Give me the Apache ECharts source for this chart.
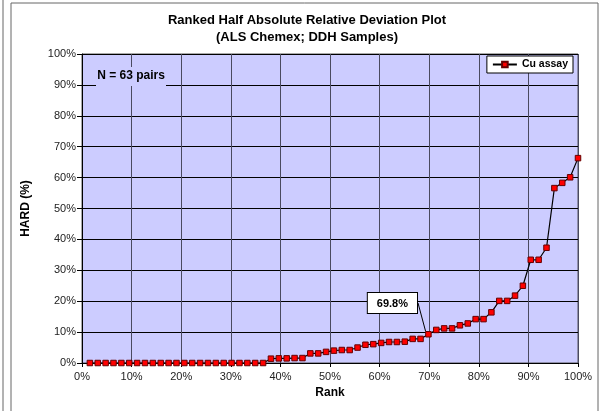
<!DOCTYPE html>
<html>
<head>
<meta charset="utf-8">
<script src="https://cdn.jsdelivr.net/npm/echarts@6/dist/echarts.min.js"></script>
<style>
html, body { margin: 0; padding: 0; background: #fff; }
#chart { width: 605px; height: 411px; }
</style>
</head>
<body>
<div id="chart"></div>
<script>
// HARD values (%), sorted ascending
var hardValues = [
	0, 0, 0, 0, 0, 0, 0, 0, 0, 0,
	0, 0, 0, 0, 0, 0, 0, 0, 0, 0,
	0, 0, 0, 1.4, 1.5, 1.5, 1.6, 1.6, 3.1, 3.1,
	3.6, 4.0, 4.2, 4.2, 5.0, 5.9, 6.1, 6.5, 6.8, 6.8,
	6.9, 7.8, 7.8, 9.3, 10.7, 11.2, 11.2, 12.2, 12.8, 14.2,
	14.2, 16.4, 20.1, 20.1, 21.8, 25.0, 33.4, 33.4, 37.3, 56.6,
	58.3, 60.1, 66.3
];
var calloutIndex = 43;
var calloutText = '69.8%';
var seriesName = 'Cu assay';
var titleLines = ['Ranked Half Absolute Relative Deviation Plot', '(ALS Chemex; DDH Samples)'];
var noteText = 'N = 63 pairs';

var font = 'Arial, "Liberation Sans", sans-serif';
var n = hardValues.length;

var seriesData = hardValues.map(function(v, i) {
	var item = { value: [(i + 1) / n * 100, v] };
	if (i === calloutIndex) {
		item.label = {
			show: true,
			formatter: calloutText,
			position: 'top',
			backgroundColor: '#fff',
			borderColor: '#000',
			borderWidth: 1,
			padding: [5, 9, 4, 9],
			color: '#000',
			fontFamily: font,
			fontWeight: 'bold',
			fontSize: 11
		};
		item.labelLine = { show: true, lineStyle: { color: '#000', width: 1 } };
	}
	return item;
});

var chart = echarts.init(document.getElementById('chart'));

var option = {
	animation: false,
	backgroundColor: '#fff',
	title: {
		text: titleLines.join('\n'),
		left: 302,
		top: 7,
		textAlign: 'center',
		textStyle: { fontFamily: font, fontSize: 13, fontWeight: 'bold', color: '#000', lineHeight: 17 }
	},
	legend: {
		data: [seriesName],
		right: 32,
		top: 56,
		backgroundColor: '#fff',
		borderColor: '#000',
		borderWidth: 1,
		padding: [3, 5, 3, 5],
		itemWidth: 24,
		itemHeight: 7,
		itemGap: 4,
		textStyle: { fontFamily: font, fontSize: 10.5, fontWeight: 'bold', color: '#000' }
	},
	grid: {
		left: 82,
		right: 27,
		top: 54,
		bottom: 48,
		show: true,
		backgroundColor: '#ccccff',
		borderColor: '#555',
		borderWidth: 1
	},
	xAxis: {
		type: 'value',
		min: 0,
		max: 100,
		interval: 10,
		name: 'Rank',
		nameLocation: 'middle',
		nameGap: 24,
		nameTextStyle: { fontFamily: font, fontSize: 12, fontWeight: 'bold', color: '#000' },
		axisLine: { lineStyle: { color: '#000' } },
		axisTick: { show: true, length: 4, inside: false, lineStyle: { color: '#000' } },
		axisLabel: { formatter: '{value}%', fontFamily: font, fontSize: 11, color: '#222', margin: 8 },
		splitLine: { show: true, lineStyle: { color: '#4a4a60', width: 1 } }
	},
	yAxis: {
		type: 'value',
		min: 0,
		max: 100,
		interval: 10,
		name: 'HARD (%)',
		nameLocation: 'middle',
		nameGap: 50,
		nameTextStyle: { fontFamily: font, fontSize: 12, fontWeight: 'bold', color: '#000' },
		axisLine: { show: true, lineStyle: { color: '#000' } },
		axisTick: { show: true, length: 5, lineStyle: { color: '#000' } },
		axisLabel: { formatter: '{value}%', fontFamily: font, fontSize: 11, color: '#222', margin: 6 },
		splitLine: { show: true, lineStyle: { color: '#000', width: 1 } }
	},
	graphic: [
		{ type: 'rect', shape: { x: 11, y: 3, width: 587, height: 430 }, style: { fill: 'none', stroke: '#666', lineWidth: 1 }, z: -1 },
		{ type: 'line', shape: { x1: 3, y1: 0, x2: 3, y2: 411 }, style: { stroke: '#666', lineWidth: 1 } },
		{ type: 'rect', shape: { x: 96, y: 67, width: 70, height: 19 }, style: { fill: '#ccccff' }, z: 5 },
		{
			type: 'text', x: 131, y: 76, z: 6,
			style: { text: noteText, font: 'bold 12px ' + font, fill: '#000', textAlign: 'center', textVerticalAlign: 'middle' }
		}
	],
	series: [{
		name: seriesName,
		type: 'line',
		data: seriesData,
		symbol: 'rect',
		symbolSize: 5.5,
		itemStyle: { color: '#ff0000', borderColor: '#600', borderWidth: 1 },
		lineStyle: { color: '#000', width: 1.2 },
		labelLayout: { dx: -36, dy: -13 },
		z: 3
	}]
};

chart.setOption(option);
</script>
</body>
</html>
